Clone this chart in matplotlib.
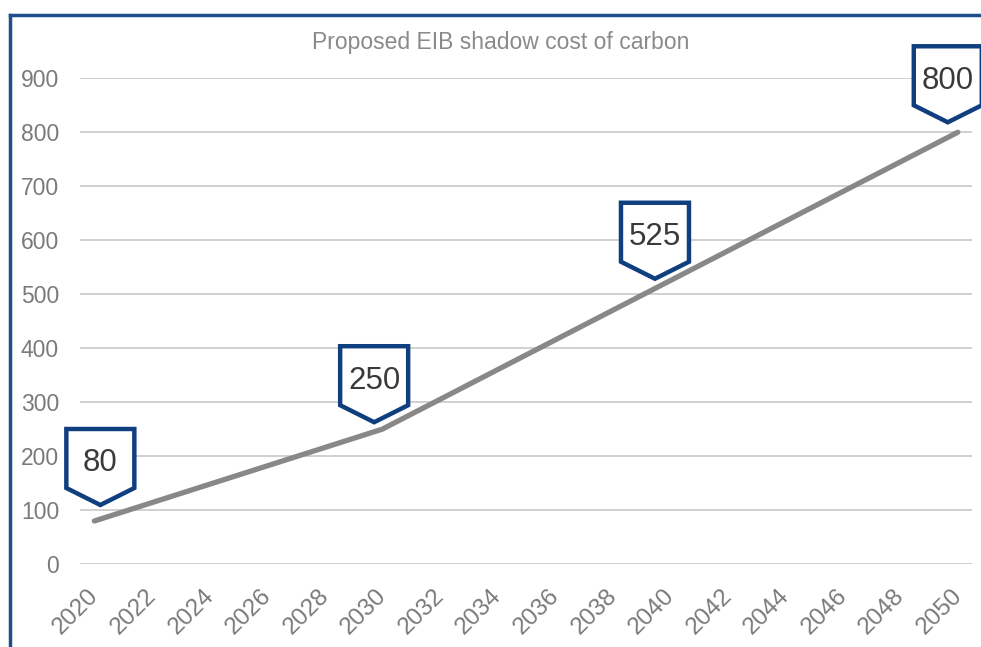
import matplotlib.pyplot as plt
import matplotlib.transforms as mtransforms
from matplotlib.patches import Polygon
from matplotlib.lines import Line2D

# data
years = [2020, 2030, 2040, 2050]
cost = [80, 250, 525, 800]
year_ticks = list(range(2020, 2051, 2))
y_ticks = list(range(0, 901, 100))
title = "Proposed EIB shadow cost of carbon"

# where each callout tip sits relative to its point (pixels)
callout_shift = [(6, 16), (-8, 7), (-15, 2), (-10, 10)]

plt.rcParams['font.family'] = ['Liberation Sans', 'DejaVu Sans']
grey_txt = '#7a7a7a'
navy = '#0F3F7F'

fig = plt.figure(figsize=(9.81, 6.47), dpi=100)
ax = fig.add_axes([0.0815, 0.128, 0.9095, 0.751])

ax.plot(years, cost, color='#888888', lw=3.8, solid_capstyle='round', zorder=3)

ax.set_xlim(2019.5, 2050.5)
ax.set_ylim(0, 900)
ax.set_xticks(year_ticks)
ax.set_yticks(y_ticks)
ax.set_xticklabels([str(y) for y in year_ticks], rotation=45, ha='right',
                   rotation_mode='anchor', fontsize=17.5, color=grey_txt)
ax.tick_params(axis='y', length=0, pad=15, labelsize=16.5, labelcolor=grey_txt)
ax.tick_params(axis='x', length=0, pad=15)
nudge = mtransforms.ScaledTranslation(-5 / 72, 0, fig.dpi_scale_trans)
for lab in ax.get_xticklabels():
    lab.set_transform(lab.get_transform() + nudge)
ax.grid(axis='y', color='#c8c8c8', lw=1.2)
for s in ax.spines.values():
    s.set_visible(False)
ax.set_axisbelow(True)

fig.text(0.51, 0.935, title, ha='center', va='center', fontsize=16.5, color='#8a8a8a')

# callout shapes (pentagon pointing down) above each value, sizes in pixels
w, h, p = 68, 59, 17
for x, v, (dx, dy) in zip(years, cost, callout_shift):
    shift = mtransforms.ScaledTranslation(x, v, ax.transData)
    off = mtransforms.Affine2D().translate(dx, dy)
    verts = [(0, 0), (-w / 2, p), (-w / 2, p + h), (w / 2, p + h), (w / 2, p)]
    poly = Polygon(verts, closed=True, facecolor='white', edgecolor=navy, lw=3.2,
                   joinstyle='miter', transform=off + shift, clip_on=False, zorder=5)
    ax.add_patch(poly)
    ax.text(0, p + h / 2 - 5, str(v), ha='center', va='center', fontsize=22.5,
            color='#3a3a3a', transform=off + shift, zorder=6, clip_on=False)

# outer frame on left and top
fig.add_artist(Line2D([10 / 981, 10 / 981], [0, 1 - 15 / 647], color='#1F4E8C', lw=2.5))
fig.add_artist(Line2D([10 / 981, 1], [1 - 15 / 647, 1 - 15 / 647], color='#1F4E8C', lw=2.5))

fig.savefig('out.png', dpi=100)
